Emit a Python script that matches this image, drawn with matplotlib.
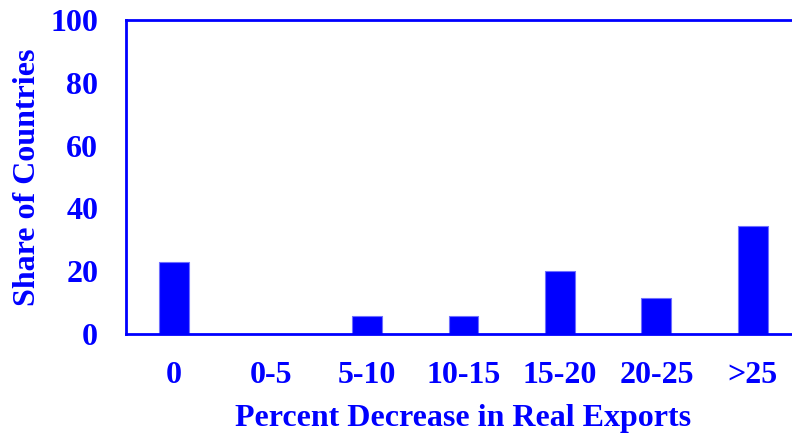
import numpy as np
import matplotlib
matplotlib.use('Agg')
import matplotlib.pyplot as plt

# share of countries by size of the drop in real exports
categories = ['0', '0-5', '5-10', '10-15', '15-20', '20-25', '>25']
shares = [22.9, 0.0, 5.7, 5.7, 20.0, 11.4, 34.3]
y_ticks = [0, 20, 40, 60, 80, 100]

blue = '#0000ff'
plt.rcParams['font.family'] = ['Liberation Serif', 'DejaVu Serif']
plt.rcParams['font.weight'] = 'bold'

fig = plt.figure(figsize=(7.92, 4.34), dpi=100)
ax = fig.add_axes([0.1591, 0.2304, 0.8523, 0.7235])

x = np.arange(len(categories))
ax.bar(x, shares, width=0.31, color=blue, edgecolor='#6f6fff', linewidth=0.8)

ax.set_xlim(-0.5, len(categories) - 0.5)
ax.set_ylim(0, 100)
ax.set_xticks(x)
ax.set_xticklabels(categories)
ax.set_yticks(y_ticks)

for side in ['left', 'bottom', 'top']:
    ax.spines[side].set_color(blue)
    ax.spines[side].set_linewidth(2)
ax.spines['right'].set_visible(False)

ax.tick_params(axis='both', length=0, labelcolor=blue, labelsize=23)
ax.tick_params(axis='y', pad=20)
ax.tick_params(axis='x', pad=19.5)

ax.set_xlabel('Percent Decrease in Real Exports', color=blue, fontsize=23,
              fontweight='bold', labelpad=10)
ax.set_ylabel('Share of Countries', color=blue, fontsize=23,
              fontweight='bold', labelpad=6)

fig.savefig('out.png', dpi=100)
